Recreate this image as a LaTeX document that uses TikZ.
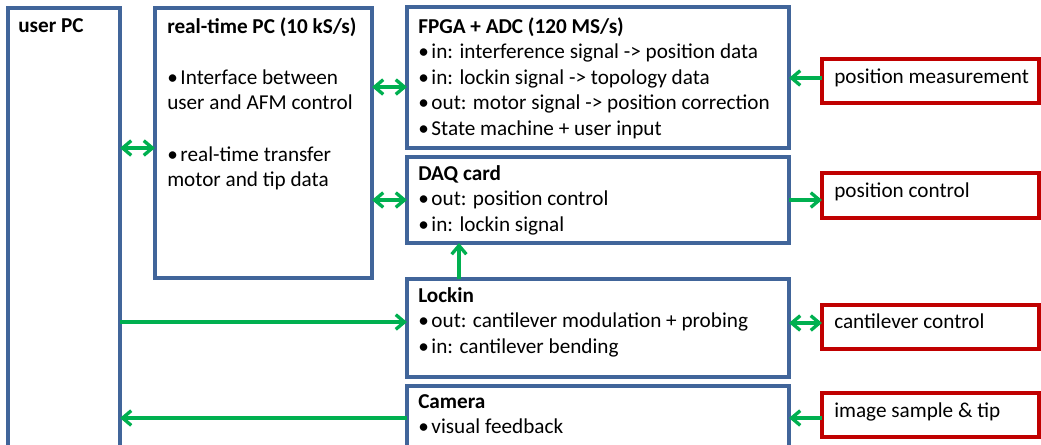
\documentclass[tikz,border=0pt]{standalone}
\usepackage{fontspec}
\setmainfont{Carlito}
\usetikzlibrary{arrows.meta}
\definecolor{boxblue}{HTML}{41659A}
\definecolor{boxred}{HTML}{C00000}
\definecolor{arrgreen}{HTML}{00B050}
% multi-line text block whose baseline is the first line
\newcommand{\txtlines}[1]{\parbox[t]{12cm}{\raggedright #1}}
\newcommand{\bul}{\textbullet\hspace{2pt}}
\begin{document}
\begin{tikzpicture}[x=0.75pt,y=-0.75pt,
  sz/.style 2 args={minimum width={#1*0.75pt}, minimum height={#2*0.75pt}},
  bluebox/.style={draw=boxblue, line width=2.5pt, rectangle, anchor=north west, inner sep=0pt, outer sep=0pt},
  redbox/.style={draw=boxred, line width=2.5pt, rectangle, anchor=north west, inner sep=0pt, outer sep=0pt},
  txt/.style={anchor=base west, inner sep=0pt, font=\fontsize{15.9pt}{19.2pt}\selectfont},
  arr/.style={draw=arrgreen, line width=2.5pt},
  >={Straight Barb[length=6.5pt,width=11pt]}]
\useasboundingbox (0,0) rectangle (1041,444);
\clip (0,0) rectangle (1041,444);

% computer and acquisition blocks
\node[bluebox, sz={112}{460}] (user) at (8,8) {};
\node[bluebox, sz={217}{270}] (rt) at (155,8) {};
\node[bluebox, sz={382}{141}] (fpga) at (407,7) {};
\node[bluebox, sz={382}{86}] (daq) at (407,157) {};
\node[bluebox, sz={382}{98}] (lockin) at (407,279) {};
\node[bluebox, sz={382}{80}] (camera) at (407,386) {};

% hardware side
\node[redbox, sz={217}{44}] (pm) at (822,59) {};
\node[redbox, sz={217}{45}] (pc) at (822,173) {};
\node[redbox, sz={217}{44}] (cc) at (822,305) {};
\node[redbox, sz={217}{44}] (is) at (822,393) {};

% block texts
\node[txt] (userT) at ([shift={(10,24)}]user.north west) {\txtlines{\textbf{user PC}}};
\node[txt] (rtT) at ([shift={(12,25)}]rt.north west) {\txtlines{\textbf{real-time PC (10 kS/s)}\\ \mbox{}\\
  \bul Interface between\\ user and AFM control\\ \mbox{}\\ \bul real-time transfer\\ motor and tip data}};
\node[txt] (fpgaT) at ([shift={(11,26)}]fpga.north west) {\txtlines{\textbf{FPGA + ADC (120 MS/s)}\\
  \bul in: interference signal -> position data\\
  \bul in: lockin signal -> topology data\\
  \bul out: motor signal -> position correction\\
  \bul State machine + user input}};
\node[txt] (daqT) at ([shift={(11,23)}]daq.north west) {\txtlines{\textbf{DAQ card}\\
  \bul out: position control\\ \bul in: lockin signal}};
\node[txt] (lockinT) at ([shift={(11,23)}]lockin.north west) {\txtlines{\textbf{Lockin}\\
  \bul out: cantilever modulation + probing\\ \bul in: cantilever bending}};
\node[txt] (cameraT) at ([shift={(11,22)}]camera.north west) {\txtlines{\textbf{Camera}\\ \bul visual feedback}};

\node[txt] (pmT) at ([shift={(12,24)}]pm.north west) {position measurement};
\node[txt] (pcT) at ([shift={(12,24)}]pc.north west) {position control};
\node[txt] (ccT) at ([shift={(12,23)}]cc.north west) {cantilever control};
\node[txt] (isT) at ([shift={(12,24)}]is.north west) {image sample \& tip};

% signal connections
\draw[arr, <->] (user.east |- 0,148) -- (rt.west |- 0,148);
\draw[arr, <->] (rt.east |- 0,87) -- (fpga.west |- 0,87);
\draw[arr, <->] (rt.east |- 0,200) -- (daq.west |- 0,200);
\draw[arr, ->] (pm.west |- 0,78) -- (fpga.east |- 0,78);
\draw[arr, ->] (daq.east |- 0,200) -- (pc.west |- 0,200);
\draw[arr, ->] (lockin.north -| 459,0) -- (daq.south -| 459,0);
\draw[arr, ->] (user.east |- 0,322) -- (lockin.west |- 0,322);
\draw[arr, <->] (lockin.east |- 0,323) -- (cc.west |- 0,323);
\draw[arr, ->] (camera.west |- 0,418) -- (user.east |- 0,418);
\draw[arr, ->] (is.west |- 0,418) -- (camera.east |- 0,418);
\end{tikzpicture}
\end{document}
